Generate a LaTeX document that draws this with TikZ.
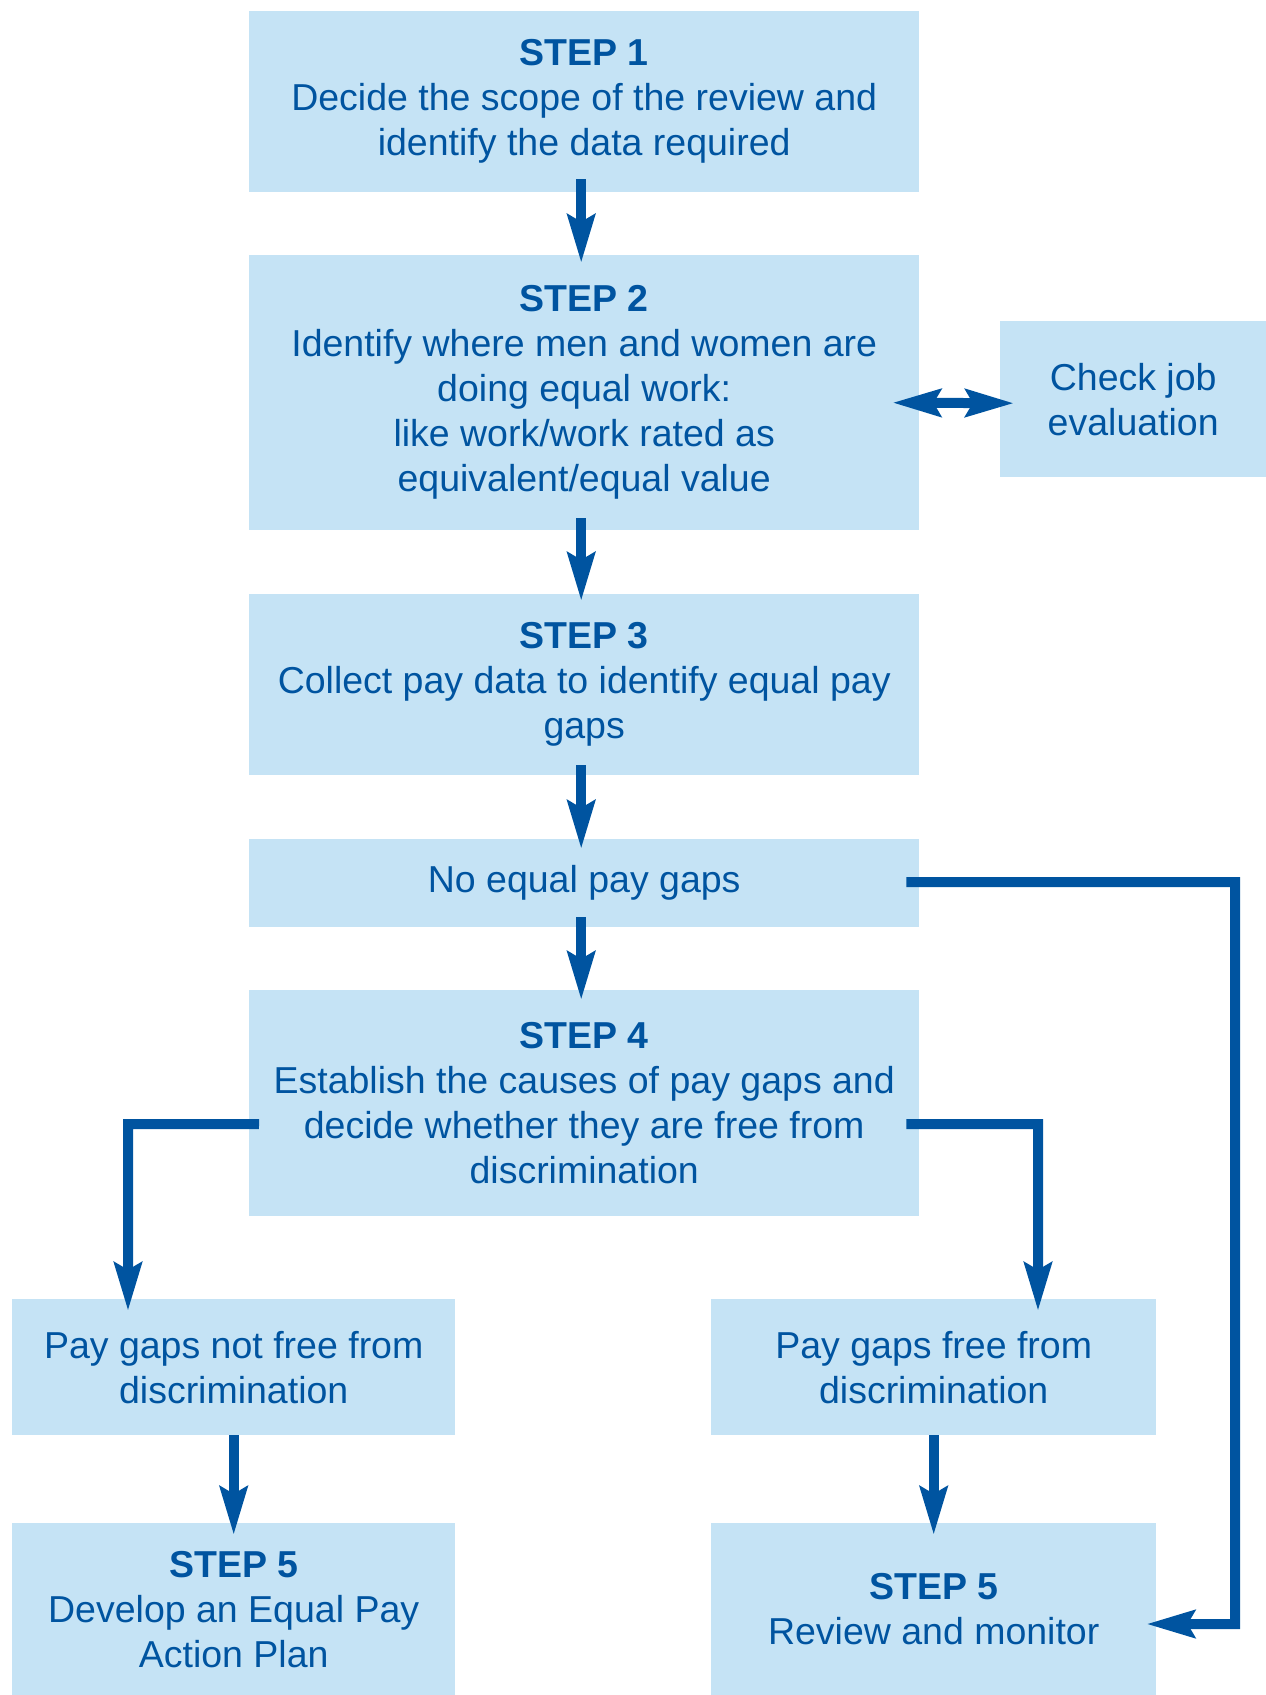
\documentclass[tikz,border=0pt]{standalone}
\usepackage{fontspec}
\setmainfont{Liberation Sans}
\usetikzlibrary{arrows.meta,calc}
\definecolor{boxfill}{RGB}{197,227,245}
\definecolor{ink}{RGB}{0,84,160}
\tikzset{
  box/.style={rectangle, fill=boxfill, draw=none, inner sep=0pt, align=center,
    text=ink, font=\fontsize{37.5}{45}\selectfont, anchor=north west},
  conn/.style={draw=ink, line width=10pt, line join=miter,
    -{Stealth[length=48pt,width=27pt,inset=7pt]}},
  dconn/.style={draw=ink, line width=10pt,
    {Stealth[length=48pt,width=27pt,inset=7pt]}-{Stealth[length=48pt,width=27pt,inset=7pt]}},
}
\newcommand{\stp}[1]{\textbf{STEP #1}}
\begin{document}
\begin{tikzpicture}[x=1pt,y=-1pt]
\useasboundingbox (0,0) rectangle (1266,1695);
\node[box, minimum width=670pt, minimum height=181pt] (s1) at (249,11)
  {\stp{1}\\Decide the scope of the review and\\identify the data required};
\node[box, minimum width=670pt, minimum height=275pt] (s2) at (249,255)
  {\stp{2}\\Identify where men and women are\\doing equal work:\\like work/work rated as\\equivalent/equal value};
\node[box, minimum width=266pt, minimum height=156pt] (cj) at (1000,321)
  {Check job\\evaluation};
\node[box, minimum width=670pt, minimum height=181pt] (s3) at (249,594)
  {\stp{3}\\Collect pay data to identify equal pay\\gaps};
\node[box, minimum width=670pt, minimum height=88pt] (ne) at (249,839)
  {No equal pay gaps};
\node[box, minimum width=670pt, minimum height=226pt] (s4) at (249,990)
  {\stp{4}\\Establish the causes of pay gaps and\\decide whether they are free from\\discrimination};
\node[box, minimum width=443pt, minimum height=136pt] (nf) at (12,1299)
  {Pay gaps not free from\\discrimination};
\node[box, minimum width=445pt, minimum height=136pt] (ff) at (711,1299)
  {Pay gaps free from\\discrimination};
\node[box, minimum width=443pt, minimum height=172pt] (s5a) at (12,1523)
  {\stp{5}\\Develop an Equal Pay\\Action Plan};
\node[box, minimum width=445pt, minimum height=172pt] (s5b) at (711,1523)
  {\stp{5}\\Review and monitor};
% connectors
\draw[conn] ([xshift=-3pt,yshift=13pt]s1.south) -- ([xshift=-3pt,yshift=-8pt]s2.north);
\draw[conn] ([xshift=-3pt,yshift=12pt]s2.south) -- ([xshift=-3pt,yshift=-7pt]s3.north);
\draw[conn] ([xshift=-3pt,yshift=10pt]s3.south) -- ([xshift=-3pt,yshift=-10pt]ne.north);
\draw[conn] ([xshift=-3pt,yshift=10pt]ne.south) -- ([xshift=-3pt,yshift=-10pt]s4.north);
\draw[dconn] ([xshift=-27pt,yshift=-10pt]s2.east) -- ([xshift=14pt,yshift=-4pt]cj.west);
\coordinate (l1) at (128,1124);
\coordinate (r1) at (1038,1124);
\coordinate (lp1) at (1235,882);
\coordinate (lp2) at (1235,1624);
\draw[conn] ([xshift=10pt,yshift=-21pt]s4.west) -- (l1) -- ($(l1 |- nf.north)+(0,12)$);
\draw[conn] ([xshift=-13pt,yshift=-21pt]s4.east) -- (r1) -- ($(r1 |- ff.north)+(0,12)$);
\draw[conn] (nf.south) -- ([yshift=-12pt]s5a.north);
\draw[conn] (ff.south) -- ([yshift=-12pt]s5b.north);
\draw[conn] ([xshift=-13pt,yshift=1pt]ne.east) -- (lp1) -- (lp2) -- ($(s5b.east |- lp2)+(-10,0)$);
\end{tikzpicture}
\end{document}
